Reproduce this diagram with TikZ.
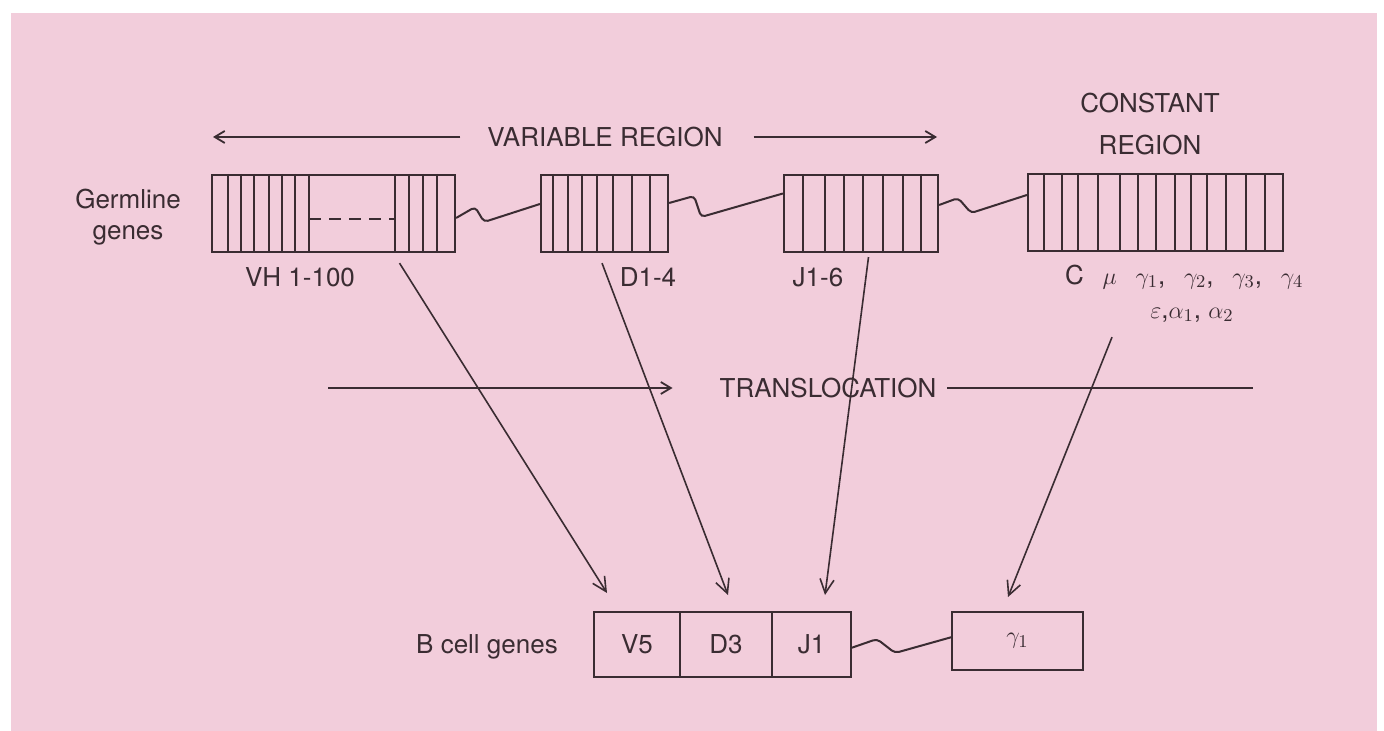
\documentclass[tikz,border=0pt]{standalone}
\usepackage{fontspec}
\setmainfont{TeX Gyre Heros}
\usepackage{tikz}
\usetikzlibrary{positioning, arrows.meta, calc}
\definecolor{bgpink}{RGB}{242,205,219}
\definecolor{ink}{RGB}{58,44,50}

\begin{document}
\begin{tikzpicture}[
    x=0.5pt, y=-0.5pt,
    genebox/.style={draw=ink, line width=1.1pt, rectangle, inner sep=0pt, minimum height=38.5pt},
    cellbox/.style={draw=ink, line width=1.1pt, rectangle, inner sep=0pt, outer sep=0pt, minimum height=32.5pt, text=ink, font=\fontsize{13}{15}\selectfont},
    stripe/.style={draw=ink, line width=0.9pt},
    link/.style={draw=ink, line width=1pt, rounded corners=2pt},
    arr/.style={draw=ink, line width=0.8pt, -{Straight Barb[length=7pt, width=7pt]}},
    harr/.style={draw=ink, line width=0.9pt, -{Straight Barb[length=5pt, width=6pt]}},
    varlabel/.style={text=ink, font=\fontsize{13}{15.5}\selectfont, align=center}
]

% Hintergrund
\useasboundingbox (0,0) rectangle (1384,731);
\fill[white] (0,0) rectangle (1384,731);
\fill[bgpink] (11,13) rectangle (1377,731);

% Knoten
\node[varlabel] (var) at (605,137) {VARIABLE REGION};
\node[varlabel, font=\fontsize{13}{21}\selectfont] (const) at (1150,124) {CONSTANT\\REGION};
\node[varlabel] (germ) at (128,217) {Germline\\genes};
\node[genebox, minimum width=121.5pt] (VH) at (333.5,213.5) {};
\node[genebox, minimum width=63.5pt] (D) at (604.5,213.5) {};
\node[genebox, minimum width=77pt] (J) at (861,213.5) {};
\node[genebox, minimum width=127.5pt] (C) at (1155.5,212.5) {};
\node[varlabel] (vhlab) at (300,277) {VH 1-100};
\node[varlabel] (dlab) at (648,277) {D1-4};
\node[varlabel] (jlab) at (818,277) {J1-6};
\node[varlabel, anchor=west] (clab) at (1058,277) {C~~\,$\mu$~~\,$\gamma_{1}$,~~\,$\gamma_{2}$,~~\,$\gamma_{3}$,~~\,$\gamma_{4}$};
\node[varlabel] (eps) at (1192,315) {$\varepsilon$,$\alpha_{1}$,~$\alpha_{2}$};
\node[varlabel] (trans) at (828,388) {TRANSLOCATION};
\node[varlabel] (bcell) at (487,647) {B cell genes};
\node[cellbox, minimum width=43pt] (V5) at (637,644.5) {V5};
\node[cellbox, minimum width=46pt, right=0pt of V5] (D3) {D3};
\node[cellbox, minimum width=39.5pt, right=0pt of D3] (J1) {J1};
\node[cellbox, minimum width=65.5pt, minimum height=29pt] (gam) at (1017.5,641) {$\gamma_{1}$};
\coordinate (vl) at (213,137);
\coordinate (vr) at (937,137);
\coordinate (tl) at (328,388);
\coordinate (tr) at (1253,388);

% Streifen in den Genboxen
\foreach \x in {228,241,254,269,282,295,309,395,409,423,437}
    \draw[stripe] (\x,0 |- VH.north) -- (\x,0 |- VH.south);
\draw[stripe, dash pattern=on 6pt off 4pt] (309,219) -- (395,219);
\foreach \x in {553,568,582,597,613,632,650}
    \draw[stripe] (\x,0 |- D.north) -- (\x,0 |- D.south);
\foreach \x in {803,825,844,863,883,903,921}
    \draw[stripe] (\x,0 |- J.north) -- (\x,0 |- J.south);
\foreach \x in {1044,1062,1078,1098,1120,1138,1156,1175,1191,1207,1226,1246,1265}
    \draw[stripe] (\x,0 |- C.north) -- (\x,0 |- C.south);

% Kanten zwischen Knoten
\draw[harr] ([xshift=-10pt]var.west) -- (vl);
\draw[harr] ([xshift=12pt]var.east) -- (vr);
\draw[link] ([yshift=-2.25pt]VH.east) -- ++(19,-11) -- ++(9,15) -- ([yshift=4.75pt]D.west);
\draw[link] ([yshift=5.25pt]D.east) -- ++(25,-7) -- ++(7,21) -- ([yshift=10pt]J.west);
\draw[link] ([yshift=4.25pt]J.east) -- ++(19,-7) -- ++(13,15) -- ([yshift=8.75pt]C.west);
\draw[link] ([yshift=-1.75pt]J1.east) -- ++(26,-9) -- ++(18,14) -- ([yshift=2pt]gam.west);
\draw[harr] (tl) -- ([xshift=-20pt]trans.west);
\draw[stripe] ([xshift=2pt]trans.east) -- (tr);
\draw[arr] ([xshift=33pt,yshift=-5pt]VH.south) -- ([xshift=-15pt,yshift=9.5pt]V5.north);
\draw[arr] ([xshift=-1.25pt,yshift=-5pt]D.south) -- ([xshift=1pt,yshift=8.5pt]D3.north);
\draw[arr] ([xshift=3.75pt,yshift=-2pt]J.south) -- ([xshift=6.75pt,yshift=8.5pt]J1.north);
\draw[arr] ([xshift=-40pt,yshift=-4pt]eps.south) -- ([xshift=-4.75pt,yshift=7.5pt]gam.north);

\end{tikzpicture}
\end{document}
